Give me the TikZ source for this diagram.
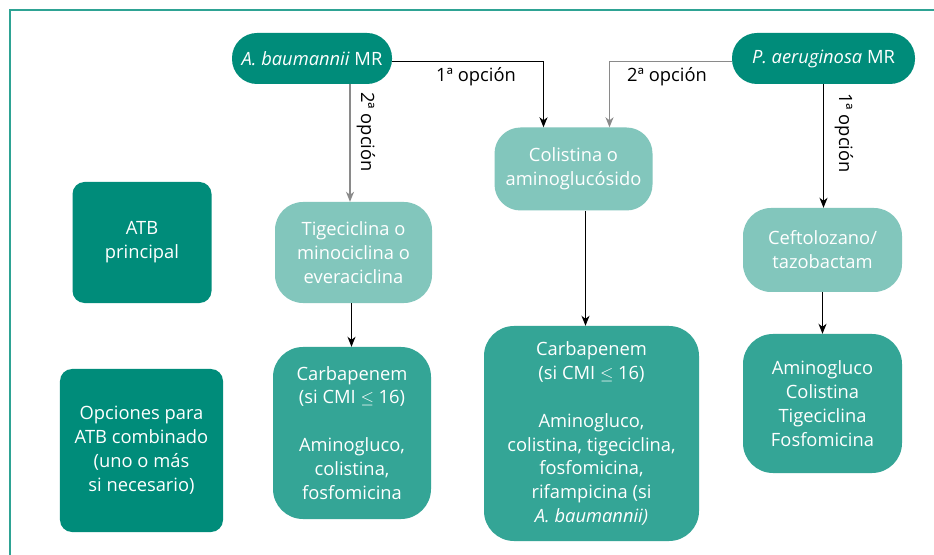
\documentclass[tikz,border=0pt]{standalone}
\usepackage{fontspec}
\setmainfont{Open Sans}
\usetikzlibrary{arrows.meta,calc}
\definecolor{tdark}{RGB}{0,140,122}
\definecolor{tlight}{RGB}{130,198,188}
\definecolor{tmid}{RGB}{52,165,150}
\definecolor{tframe}{RGB}{46,163,148}
\definecolor{tgray}{RGB}{138,138,138}
\tikzset{
  box/.style={inner sep=0pt, align=center, text=white,
    node font=\fontsize{18.4}{24}\selectfont},
  pill/.style={box, fill=tdark, rounded corners=25bp, node font=\fontsize{18.4}{22}\selectfont},
  legend/.style={box, fill=tdark, rounded corners=12bp},
  lightbox/.style={box, fill=tlight},
  midbox/.style={box, fill=tmid},
  arr/.style={line width=1.3bp, -{Stealth[length=10bp,width=8bp,inset=3bp]}},
  blackarr/.style={arr, draw=black},
  grayarr/.style={arr, draw=tgray},
  lbl/.style={inner sep=0pt, text=black, node font=\fontsize{18.4}{22}\selectfont}
}
\begin{document}
\begin{tikzpicture}[x=1bp,y=-1bp]
\useasboundingbox (0,0) rectangle (934,555);
\fill[white] (0,0) rectangle (934,555);
\draw[tframe, line width=1.5bp] (10,555) -- (10,10) -- (934,10);

% nodes
\node[pill, minimum width=160bp, minimum height=51bp] (abau) at (312,58.5) {\textit{A. baumannii} MR};
\node[pill, minimum width=183bp, minimum height=51bp] (paer) at (823.5,58.5) {\textit{P. aeruginosa} MR};
\node[lightbox, rounded corners=26bp, minimum width=158bp, minimum height=83bp] (colis) at (573.5,169) {Colistina o\\aminoglucósido};
\node[lightbox, rounded corners=28bp, minimum width=157bp, minimum height=101bp] (tige) at (353.5,252.5) {Tigeciclina o\\minociclina o\\everaciclina};
\node[lightbox, rounded corners=28bp, minimum width=159bp, minimum height=84bp] (ceft) at (822.5,250) {Ceftolozano/\\tazobactam};
\node[legend, minimum width=139bp, minimum height=121bp] (atbp) at (142,242.5) {ATB\\principal};
\node[legend, minimum width=163bp, minimum height=163bp] (atbc) at (141.5,450.5) {Opciones para\\ATB combinado\\(uno o más\\si necesario)};
\node[midbox, rounded corners=30bp, minimum width=158bp, minimum height=172bp] (carbL) at (352,433) {Carbapenem\\(si CMI $\leq$ 16)\\[24bp]Aminogluco,\\colistina,\\fosfomicina};
\node[midbox, rounded corners=30bp, minimum width=215bp, minimum height=215bp] (carbC) at (591.5,433.5) {Carbapenem\\(si CMI $\leq$ 16)\\[24bp]Aminogluco,\\colistina, tigeciclina,\\fosfomicina,\\rifampicina (si\\\textit{A. baumannii)}};
\node[midbox, rounded corners=30bp, minimum width=159bp, minimum height=139bp] (amR) at (822.5,403.5) {Aminogluco\\Colistina\\Tigeciclina\\Fosfomicina};

% connectors
\draw[blackarr] ([yshift=-3bp]abau.east) -| ([xshift=-30bp]colis.north);
\draw[grayarr] ([yshift=-3bp]paer.west) -| ([xshift=36bp]colis.north);
\draw[grayarr] ([xshift=38bp]abau.south) -- ([xshift=38bp]abau.south |- tige.north);
\draw[blackarr] (paer.south) -- (paer.south |- ceft.north);
\draw[blackarr] ([xshift=-2bp]tige.south) -- ([xshift=-2bp]tige.south |- carbL.north);
\draw[blackarr] ([xshift=12bp]colis.south) -- ([xshift=12bp]colis.south |- carbC.north);
\draw[blackarr] (ceft.south) -- (amR.north);

% labels
\node[lbl] (l1a) at (476,77) {1ª opción};
\node[lbl] (l2p) at (667,77) {2ª opción};
\node[lbl, rotate=-90] (l2a) at (366,132) {2ª opción};
\node[lbl, rotate=-90] (l1p) at (844,133) {1ª opción};
\end{tikzpicture}
\end{document}
